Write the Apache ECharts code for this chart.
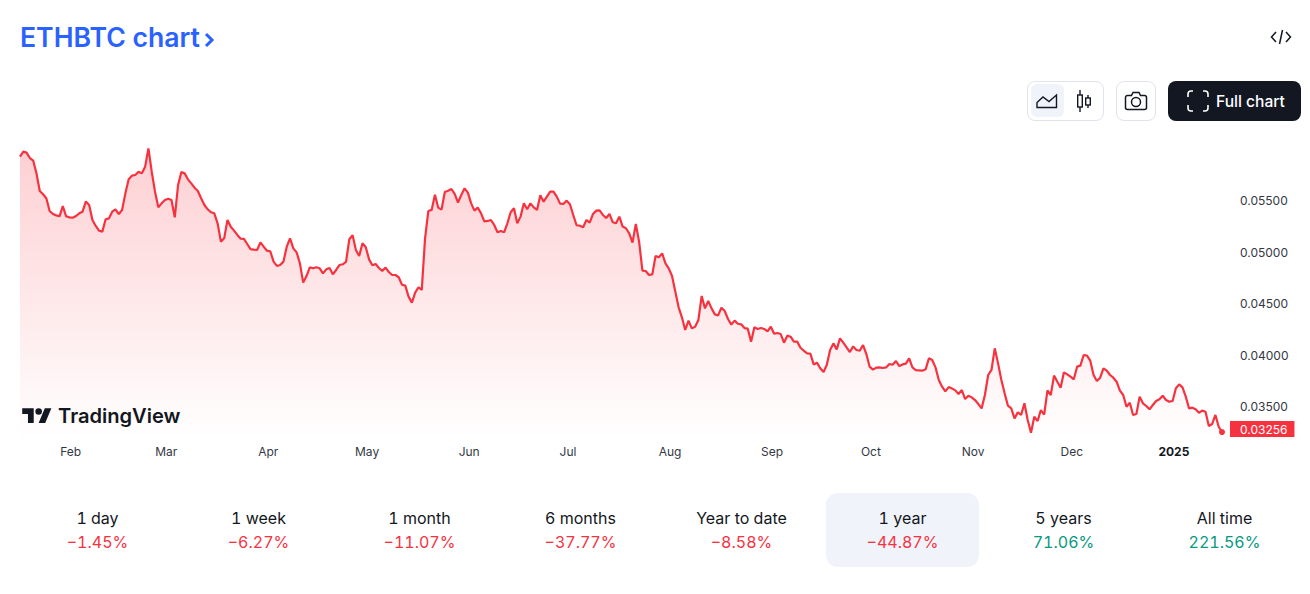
<!DOCTYPE html>
<html><head><meta charset="utf-8">
<script src="https://cdn.jsdelivr.net/npm/echarts@6/dist/echarts.min.js"></script>
<style>
html,body{margin:0;padding:0;background:#fff;width:1310px;height:594px;overflow:hidden;font-family:Inter,"Noto Sans",sans-serif;color:#131722}
#chart{position:absolute;left:0;top:0;width:1310px;height:594px}
.abs{position:absolute}
#title{left:20px;top:20px;font-size:26.6px;line-height:34px;font-weight:600;color:#2962FF;white-space:nowrap}
.box{box-sizing:border-box;border:1px solid #E0E3EB;border-radius:8px;background:#fff}
#full{left:1168px;top:81px;width:133px;height:40px;background:#131722;border-radius:8px;color:#fff;font-size:15.6px;font-weight:500;line-height:41px}
#full span{position:absolute;left:48px;white-space:nowrap}
#tabs div.t{position:absolute;top:506px;width:161px;text-align:center;font-size:16px;line-height:24px;font-variant-numeric:tabular-nums}
#tabs .p{display:block}
#sel{left:826px;top:493px;width:153px;height:74px;background:#F0F3FA;border-radius:12px}
#tv{left:58px;top:402px;font-size:20.1px;line-height:28px;font-weight:600;color:#131722}
</style></head><body>
<div id="chart"></div>
<div class="abs" id="title">ETHBTC chart</div>
<svg class="abs" style="left:203px;top:32px" width="12" height="16" viewBox="0 0 12 16"><path d="M3 2 9 8 3 14" fill="none" stroke="#2962FF" stroke-width="3"/></svg>
<svg class="abs" style="left:1270px;top:27px" width="22" height="20" viewBox="0 0 22 20" fill="none" stroke="#131722" stroke-width="1.5"><path d="M6 5 1.5 10 6 15M16 5l4.500 5L16 15M12.500 3 9.500 17"/></svg>
<div class="abs box" style="left:1027px;top:81px;width:77px;height:40px"></div>
<div class="abs" style="left:1031px;top:84px;width:33px;height:33px;background:#F0F3FA;border-radius:6px"></div>
<svg class="abs" style="left:1036px;top:92px" width="22" height="18" viewBox="0 0 22 18" fill="none" stroke="#131722" stroke-width="1.400"><path d="M1 15.500V10.500L7 5l6 4.500L20.500 3V15.500Z"/></svg>
<svg class="abs" style="left:1075px;top:89px" width="18" height="24" viewBox="0 0 18 24" fill="none" stroke="#131722" stroke-width="1.400"><path d="M5 1v22M13 6v13"/><rect x="2.700" y="6" width="4.600" height="12" fill="#fff"/><rect x="10.700" y="9" width="4.600" height="7" fill="#fff"/></svg>
<div class="abs box" style="left:1116px;top:81px;width:40px;height:40px"></div>
<svg class="abs" style="left:1124px;top:91px" width="24" height="20" viewBox="0 0 24 20" fill="none" stroke="#131722" stroke-width="1.500"><path d="M3.500 4.500H7.500L9 1.500H15L16.500 4.500H20.500A2 2 0 0 1 22.500 6.500V16.500A2 2 0 0 1 20.500 18.500H3.500A2 2 0 0 1 1.500 16.500V6.500A2 2 0 0 1 3.500 4.500Z"/><circle cx="12" cy="11" r="4.500"/></svg>
<div class="abs" id="full"><svg class="abs" style="left:18px;top:9px" width="24" height="22" viewBox="0 0 24 22" fill="none" stroke="#fff" stroke-width="1.600"><path d="M2 7V4a3 3 0 0 1 3-3h2M17 1h2a3 3 0 0 1 3 3v3M22 15v3a3 3 0 0 1-3 3h-2M7 21H5a3 3 0 0 1-3-3v-3"/></svg><span>Full chart</span></div>
<svg class="abs" style="left:22px;top:405px" width="30" height="23" viewBox="0 0 36 28" fill="#131722"><path d="M14 22H7V11H0V4h14v18zM28 22h-8l7.500-18h8L28 22z"/><circle cx="20" cy="8" r="4"/></svg>
<div class="abs" id="tv">TradingView</div>
<div class="abs" id="sel"></div>
<div id="tabs"></div>
<script>
const startDate = '2024-01-16';
const prices = [
0.05930,0.05979,0.05969,0.05917,0.05892,0.05769,0.05597,0.05565,0.05526,0.05403,
0.05373,0.05360,0.05351,0.05451,0.05351,0.05341,0.05338,0.05354,0.05380,0.05396,
0.05496,0.05461,0.05315,0.05257,0.05211,0.05202,0.05322,0.05331,0.05396,0.05419,
0.05373,0.05412,0.05574,0.05710,0.05746,0.05752,0.05784,0.05768,0.05833,0.06011,
0.05784,0.05590,0.05438,0.05477,0.05509,0.05522,0.05509,0.05341,0.05655,0.05781,
0.05768,0.05710,0.05671,0.05629,0.05597,0.05526,0.05461,0.05419,0.05390,0.05380,
0.05283,0.05105,0.05137,0.05315,0.05250,0.05212,0.05170,0.05134,0.05131,0.05082,
0.05033,0.05027,0.05024,0.05098,0.05056,0.05017,0.05011,0.04911,0.04869,0.04878,
0.04911,0.05056,0.05137,0.05040,0.05001,0.04894,0.04707,0.04771,0.04856,0.04846,
0.04856,0.04846,0.04797,0.04836,0.04849,0.04788,0.04830,0.04878,0.04885,0.04908,
0.05128,0.05167,0.05024,0.04966,0.05089,0.05050,0.04933,0.04875,0.04888,0.04849,
0.04820,0.04853,0.04810,0.04781,0.04781,0.04759,0.04687,0.04678,0.04571,0.04513,
0.04610,0.04662,0.04636,0.05137,0.05403,0.05413,0.05561,0.05435,0.05416,0.05587,
0.05600,0.05616,0.05568,0.05484,0.05558,0.05623,0.05581,0.05477,0.05406,0.05435,
0.05380,0.05302,0.05306,0.05315,0.05267,0.05196,0.05209,0.05196,0.05283,0.05390,
0.05429,0.05283,0.05348,0.05477,0.05419,0.05477,0.05438,0.05413,0.05555,0.05493,
0.05542,0.05591,0.05591,0.05542,0.05474,0.05471,0.05503,0.05468,0.05364,0.05264,
0.05260,0.05244,0.05315,0.05290,0.05374,0.05406,0.05409,0.05364,0.05335,0.05374,
0.05293,0.05283,0.05348,0.05251,0.05235,0.05186,0.05095,0.05277,0.05105,0.04823,
0.04820,0.04781,0.04787,0.04966,0.04953,0.04991,0.04894,0.04846,0.04771,0.04619,
0.04467,0.04370,0.04247,0.04338,0.04263,0.04279,0.04344,0.04577,0.04457,0.04529,
0.04457,0.04399,0.04389,0.04464,0.04431,0.04354,0.04299,0.04338,0.04308,0.04302,
0.04266,0.04260,0.04134,0.04273,0.04257,0.04266,0.04257,0.04234,0.04279,0.04211,
0.04218,0.04208,0.04124,0.04192,0.04182,0.04134,0.04134,0.04075,0.04046,0.04020,
0.04017,0.03913,0.03930,0.03875,0.03839,0.03910,0.04053,0.04117,0.04059,0.04166,
0.04124,0.04079,0.04033,0.04088,0.04053,0.04046,0.04101,0.04014,0.03891,0.03862,
0.03881,0.03884,0.03878,0.03884,0.03917,0.03910,0.03946,0.03897,0.03913,0.03920,
0.03972,0.03884,0.03858,0.03855,0.03852,0.03865,0.03972,0.03956,0.03884,0.03761,
0.03697,0.03651,0.03693,0.03680,0.03661,0.03625,0.03664,0.03577,0.03609,0.03593,
0.03567,0.03528,0.03486,0.03616,0.03810,0.03859,0.04069,0.03923,0.03761,0.03632,
0.03512,0.03486,0.03389,0.03447,0.03422,0.03535,0.03373,0.03250,0.03405,0.03363,
0.03470,0.03425,0.03661,0.03616,0.03804,0.03745,0.03687,0.03836,0.03816,0.03794,
0.03768,0.03891,0.03901,0.04004,0.03998,0.03949,0.03810,0.03752,0.03784,0.03875,
0.03852,0.03810,0.03784,0.03745,0.03658,0.03616,0.03502,0.03541,0.03422,0.03431,
0.03600,0.03535,0.03509,0.03477,0.03519,0.03558,0.03574,0.03609,0.03567,0.03551,
0.03558,0.03681,0.03719,0.03690,0.03600,0.03486,0.03493,0.03477,0.03444,0.03464,
0.03454,0.03315,0.03334,0.03422,0.03308,0.03256
];
const priceTicks = [0.035, 0.04, 0.045, 0.05, 0.055];
const monthNames = ['2025','Feb','Mar','Apr','May','Jun','Jul','Aug','Sep','Oct','Nov','Dec'];
const tabNames = ['1 day','1 week','1 month','6 months','Year to date','1 year','5 years','All time'];
const tabChanges = ['−1.45%','−6.27%','−11.07%','−37.77%','−8.58%','−44.87%','71.06%','221.56%'];

const RED = '#F7323F', GREEN = '#089981';
const categories = prices.map((_, i) => {
  const d = new Date(startDate + 'T00:00:00Z');
  d.setUTCDate(d.getUTCDate() + i);
  return d.toISOString().slice(0, 10);
});
document.getElementById('tabs').innerHTML = tabNames.map((n, i) =>
  `<div class="t" style="left:${17 + i * 161}px">${n}<span class="p" style="color:${tabChanges[i][0] === '−' ? RED : GREEN}">${tabChanges[i]}</span></div>`
).join('');

const last = prices.length - 1;
const chart = echarts.init(document.getElementById('chart'), null, {renderer: 'svg'});
chart.setOption({
  animation: false,
  textStyle: {fontFamily: 'Inter'},
  grid: {left: 20, right: 88, top: 130, bottom: 154},
  xAxis: {
    type: 'category', data: categories, boundaryGap: false,
    axisLine: {show: false}, axisTick: {show: false}, splitLine: {show: false},
    axisLabel: {
      color: '#333844', fontSize: 12, margin: 5, padding: [0, 4, 0, 0],
      interval: (i, v) => v.slice(8) === '01',
      formatter: v => {
        const m = +v.slice(5, 7) - 1;
        return m === 0 ? '{y|' + monthNames[0] + '}' : monthNames[m];
      },
      rich: {y: {fontWeight: 700, fontSize: 12, color: '#131722', fontFamily: 'Inter'}}
    }
  },
  yAxis: {
    type: 'value', position: 'right', min: 0.03179, max: 0.06189, scale: true,
    axisLine: {show: false}, axisTick: {show: false}, splitLine: {show: false},
    axisLabel: {
      color: '#333844', fontSize: 12, margin: 18, padding: [3, 0, 0, 0],
      customValues: priceTicks,
      formatter: v => v.toFixed(5)
    }
  },
  series: [{
    type: 'line', data: prices, showSymbol: false, smooth: false,
    lineStyle: {color: RED, width: 2.2},
    itemStyle: {color: RED},
    areaStyle: {
      color: {type: 'linear', x: 0, y: 0, x2: 0, y2: 1, colorStops: [
        {offset: 0, color: 'rgba(247,50,63,0.33)'},
        {offset: 1, color: 'rgba(247,50,63,0.0)'}
      ]}
    },
    endLabel: {
      show: true, distance: 8, offset: [0, -3],
      formatter: p => p.value.toFixed(5),
      color: '#fff', backgroundColor: RED, fontSize: 12, fontFamily: 'Inter',
      padding: [2, 7, 1, 10], lineHeight: 13
    },
    z: 3
  }, {
    type: 'line', silent: true, symbol: 'circle', symbolSize: 6, showSymbol: true, showAllSymbol: true,
    itemStyle: {color: RED}, lineStyle: {width: 0},
    data: prices.map((v, i) => i === last ? v : null), z: 4
  }]
});
</script>
</body></html>
